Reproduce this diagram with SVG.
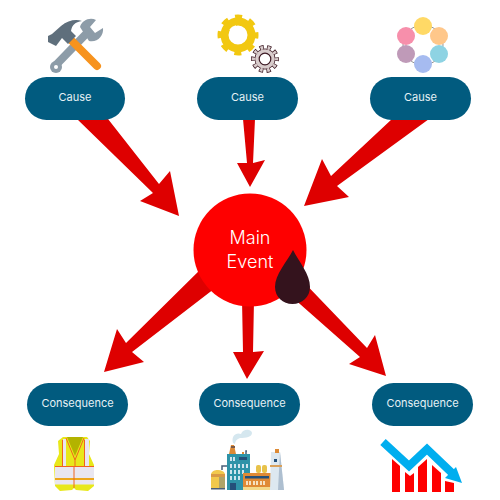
<svg xmlns="http://www.w3.org/2000/svg" width="500" height="500" viewBox="0 0 500 500">
<style>
.pill{fill:#015b7f}
.lbl{font-family:"Inter","Liberation Sans",sans-serif;font-size:11px;fill:#e6f1f5;text-anchor:middle}
.main{font-family:"Inter","Liberation Sans",sans-serif;font-size:18px;font-weight:300;fill:#fff;text-anchor:middle}
.arrow{fill:#de0000}
</style>
<rect width="500" height="500" fill="#fff"/>
<g id="connectors">
<polygon class="arrow" points="77,119 108,119 159,184 170,171 179,216 140,201 153,193"/>
<polygon class="arrow" points="243,119 255,119 253,163 265,160 250,187 237,163 247,163"/>
<polygon class="arrow" points="392,119 429,119 337,186 349,197 304,206 322,159 331,176"/>
<polygon class="arrow" points="207,263 223,282 132,352 144,362 104,372 117,329 126,343"/>
<polygon class="arrow" points="242,300 254,300 253,352 264,351 247,379 233,352 243,352"/>
<polygon class="arrow" points="275,282 295,273 367,348 375,335 386,376 349,364 360,357"/>
</g>
<g id="event">
<circle cx="250" cy="250" r="56.500" fill="#fe0000"/>
<text class="main" x="250" y="244">Main</text>
<text class="main" x="250" y="268">Event</text>
<path d="M293,250 C299,262 310,274 310,287 C310,297 302,304 292.500,304 C283,304 275,297 275,287 C275,274 287,262 293,250Z" fill="#34131d"/>
</g>
<g id="cause1">
<g id="tools">
<path d="M55,66 L86,34" stroke="#8d9ca8" stroke-width="8" stroke-linecap="round"/>
<circle cx="56" cy="67" r="6" fill="#8d9ca8"/><circle cx="56" cy="67" r="2" fill="#fff"/>
<path d="M80,27 C82,20 90,17 96,20 L90,27 L95,33 L103,28 C104,36 97,43 89,41 Z" fill="#8d9ca8"/>
<path d="M71,40 L97,66" stroke="#f7931e" stroke-width="8" stroke-linecap="round"/>
<path d="M48,36 L52,34 L61,26 C68,20 76,19 82,21 C75,22 72,25 71,31 L76,36 L68,44 L62,38 L56,46 L48,42 Z" fill="#5f6f7c"/>
</g>
<rect class="pill" x="25" y="77" width="100" height="43" rx="21.500"/>
<text class="lbl" x="75" y="101">Cause</text>
</g>
<g id="cause2">
<g id="gears">
<circle cx="238" cy="35" r="13.500" fill="none" stroke="#f2c811" stroke-width="8"/>
<circle cx="238" cy="35" r="18" fill="none" stroke="#f2c811" stroke-width="5" stroke-dasharray="7 7.137" stroke-dashoffset="3.500"/>
<path d="M230,30 A10,10 0 0 1 236,26" fill="none" stroke="#fff" stroke-width="1.500"/>
<circle cx="265" cy="59" r="11.500" fill="none" stroke="#3d1a24" stroke-width="5" stroke-dasharray="4 3.226" stroke-dashoffset="2"/>
<circle cx="265" cy="59" r="10.500" fill="#3d1a24"/>
<circle cx="265" cy="59" r="11.500" fill="none" stroke="#d8cccc" stroke-width="3.600" stroke-dasharray="2.600 4.626" stroke-dashoffset="1.300"/>
<circle cx="265" cy="59" r="9.800" fill="#d8cccc"/>
<circle cx="265" cy="59" r="5.800" fill="#fff" stroke="#3d1a24" stroke-width="1.200"/>
</g>
<rect class="pill" x="197" y="77" width="101" height="43" rx="21.500"/>
<text class="lbl" x="247.500" y="101">Cause</text>
</g>
<g id="cause3">
<g id="circles">
<circle cx="423" cy="45" r="20" fill="none" stroke="#777" stroke-width=".8"/>
<circle cx="423" cy="26" r="9" fill="#ffd966"/>
<circle cx="439" cy="36" r="9" fill="#ffc78a"/>
<circle cx="439" cy="54" r="9" fill="#8ed3e3"/>
<circle cx="423" cy="64" r="9" fill="#a6bbf0"/>
<circle cx="406" cy="54" r="9" fill="#bf9ab8"/>
<circle cx="406" cy="36" r="9" fill="#f78fab"/>
</g>
<rect class="pill" x="370" y="77" width="101" height="43" rx="21.500"/>
<text class="lbl" x="420.500" y="101">Cause</text>
</g>
<g id="consequence1">
<rect class="pill" x="27" y="383" width="101" height="43" rx="21.500"/>
<text class="lbl" x="77.500" y="407">Consequence</text>
<g id="vest">
<path d="M63,437 L68,437 L75,452 L82,437 L87,437 L90,441 L89,454 L94,465 L94,486 L88,491 L76,490 L74,488 L72,490 L60,491 L55,486 L54,465 L59,454 L58,441 Z" fill="#e8e81a"/>
<path d="M67,437 L83,437 L75,456 Z" fill="#b3b300"/>
<rect x="55" y="467" width="39" height="11" fill="#e9e6f0"/>
<rect x="55" y="480" width="39" height="4.500" fill="#e9e6f0"/>
<rect x="63" y="439" width="3" height="28" fill="#e9e6f0"/>
<rect x="85" y="439" width="4" height="28" fill="#e9e6f0"/>
<path d="M55,466.500 H94 M55,479 H94 M74,466 V488 M66,438 L75,460 L84,438 M75,460 V466 M62.500,440 V466 M84.500,440 V466" fill="none" stroke="#f0641e" stroke-width="1"/>
</g>
</g>
<g id="consequence2">
<rect class="pill" x="199" y="383" width="101" height="43" rx="21.500"/>
<text class="lbl" x="249.500" y="407">Consequence</text>
<g id="factory">
<path d="M233,443 C231,436 236,432 241,434 C243,428 252,429 252,433 C252,437 246,438 240,438 C237,439 235,441 235,444 Z" fill="#d5e7ef"/>
<path d="M222,470 V466 H227" fill="none" stroke="#4a5f78" stroke-width="1.500"/>
<path d="M211,474 C212,470 217,470 218,470 C221,470 224,471 225,474 V488 H211 Z" fill="#f2c94c"/>
<rect x="219" y="474" width="6" height="14" fill="#b0a468"/>
<rect x="211" y="474" width="14" height="3" fill="#d99a45"/>
<rect x="211" y="488" width="14" height="1.500" fill="#4a5f78"/>
<rect x="227" y="454" width="23" height="36" fill="#2e93a8"/>
<path d="M229,454 L231,445 H234 L236,454 Z" fill="#dd8a35"/>
<rect x="231" y="446" width="4" height="2" fill="#7a5a4a"/>
<path d="M246,454 V451 H247" fill="none" stroke="#4a5f78" stroke-width="1.500"/>
<rect x="242" y="452" width="2" height="2" fill="#e08a35"/>
<g fill="#cfe4ee">
<rect x="230" y="457" width="2" height="4"/><rect x="233" y="457" width="2" height="4"/>
<rect x="230" y="464" width="2" height="4"/><rect x="234" y="464" width="2" height="4"/><rect x="238" y="464" width="2" height="4"/><rect x="242" y="464" width="2" height="4"/><rect x="246" y="464" width="2" height="4"/>
<rect x="230" y="470" width="2" height="4"/><rect x="234" y="470" width="2" height="4"/><rect x="238" y="470" width="2" height="4"/><rect x="242" y="470" width="2" height="4"/>
<rect x="230" y="476" width="2" height="4"/><rect x="234" y="476" width="2" height="4"/><rect x="238" y="476" width="2" height="4"/>
</g>
<rect x="239" y="457" width="8" height="3" fill="#24507a"/>
<rect x="230" y="483" width="6" height="7" fill="#24507a"/>
<rect x="256" y="465" width="5" height="8" rx="2" fill="#e8c24a"/>
<rect x="262" y="465" width="5" height="8" rx="2" fill="#e8c24a"/>
<rect x="243" y="473" width="28" height="16" fill="#e08a35"/>
<rect x="245" y="476" width="24" height="2.500" fill="#24507a"/>
<g fill="#f6e0c0"><rect x="246" y="481" width="2" height="4"/><rect x="249" y="481" width="2" height="4"/><rect x="253" y="481" width="2" height="4"/><rect x="256" y="481" width="2" height="4"/><rect x="260" y="481" width="2" height="4"/><rect x="263" y="481" width="2" height="4"/></g>
<rect x="243" y="487" width="28" height="3" fill="#f4d98a"/>
<path d="M271,452 H280 L284,490 H270 Z" fill="#dde8f0"/>
<path d="M280,452 L284,490 H278 Z" fill="#aebfd0"/>
<rect x="275" y="449" width="4" height="4" fill="#dd8a35"/>
<rect x="270" y="465" width="12" height="2" fill="#d9a05a"/>
<rect x="274" y="459" width="3" height="3" fill="#24507a"/>
</g>
</g>
<g id="consequence3">
<rect class="pill" x="372" y="383" width="101" height="43" rx="21.500"/>
<text class="lbl" x="422.500" y="407">Consequence</text>
<g id="chart">
<g fill="#fe0000">
<polygon points="392,459 400,466 400,492 392,492"/>
<polygon points="405,472 410,476 414,473 414,492 405,492"/>
<polygon points="418,467 427,459 427,492 418,492"/>
<polygon points="432,465 441,473 441,492 432,492"/>
<polygon points="445,481 454,483 454,492 445,492"/>
</g>
<polyline points="383,442 409,466 427,449 452,473" fill="none" stroke="#00aeef" stroke-width="8"/>
<polygon points="462,483 456,467 445,478" fill="#00aeef"/>
</g>
</g>
</svg>
